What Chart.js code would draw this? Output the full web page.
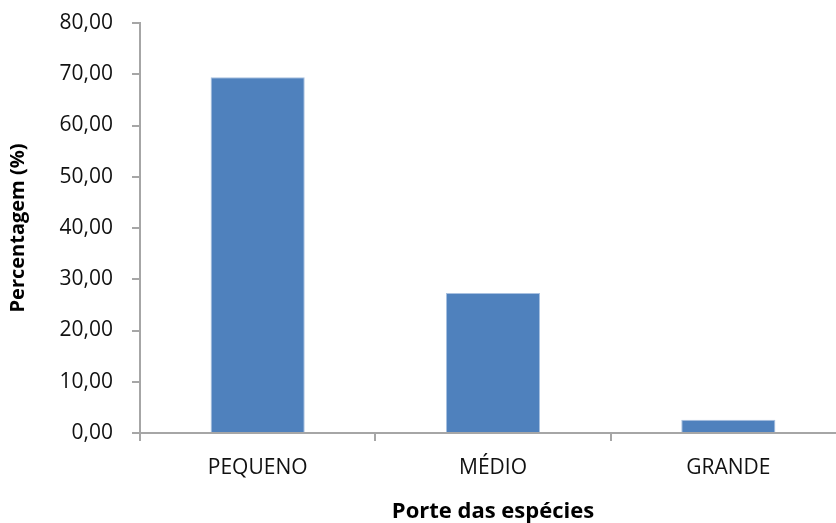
<!DOCTYPE html>
<html>
<head>
<meta charset="utf-8">
<script src="https://cdn.jsdelivr.net/npm/chart.js@4"></script>
<style>
  html, body { margin: 0; padding: 0; background: #fff; overflow: hidden; }
  #wrap { width: 846px; height: 523px; }
</style>
</head>
<body>
<div id="wrap"><canvas id="chart"></canvas></div>
<script>
// dados do gráfico
const categorias = ['PEQUENO', 'MÉDIO', 'GRANDE'];
const percentagens = [69.4, 27.3, 2.6];
const yTickLabels = ['0,00', '10,00', '20,00', '30,00', '40,00', '50,00', '60,00', '70,00', '80,00'];

const eixoCor = '#a6a6a6';
const fonte = "'Open Sans', sans-serif";

const ctx = document.getElementById('chart').getContext('2d');
new Chart(ctx, {
    type: 'bar',
    data: {
        labels: categorias,
        datasets: [{
            data: percentagens,
            backgroundColor: '#4f81bd',
            borderColor: '#a9c1e0',
            borderWidth: 1,
            categoryPercentage: 1,
            barPercentage: 0.4
        }]
    },
    options: {
        responsive: true,
        maintainAspectRatio: false,
        animation: false,
        layout: { padding: { top: 23, right: 0, bottom: 0, left: 0 } },
        plugins: {
            legend: { display: false },
            tooltip: { enabled: false }
        },
        scales: {
            x: {
                grid: { drawOnChartArea: false, tickLength: 8, color: eixoCor, lineWidth: 2 },
                border: { color: eixoCor, width: 2 },
                ticks: { color: '#111', padding: 14, font: { family: fonte, size: 21 } },
                title: {
                    display: true,
                    text: 'Porte das espécies',
                    color: '#000',
                    padding: { top: 0, bottom: 0 },
                    font: { family: fonte, size: 22, weight: 'bold', lineHeight: 1 }
                },
                afterFit: scale => { scale.height = 90; }
            },
            y: {
                min: 0,
                max: 80,
                grid: { drawOnChartArea: false, tickLength: 8, color: eixoCor, lineWidth: 2 },
                border: { color: eixoCor, width: 2 },
                ticks: {
                    stepSize: 10,
                    color: '#111',
                    padding: 19,
                    font: { family: fonte, size: 21 },
                    callback: (v, i) => yTickLabels[i]
                },
                title: {
                    display: true,
                    text: 'Percentagem (%)',
                    color: '#000',
                    padding: { top: 6, bottom: 0 },
                    font: { family: fonte, size: 20, weight: 'bold' }
                },
                afterFit: scale => {
                    scale.width = 140;
                    scale.paddingTop = 0;
                }
            }
        }
    }
});
</script>
</body>
</html>
